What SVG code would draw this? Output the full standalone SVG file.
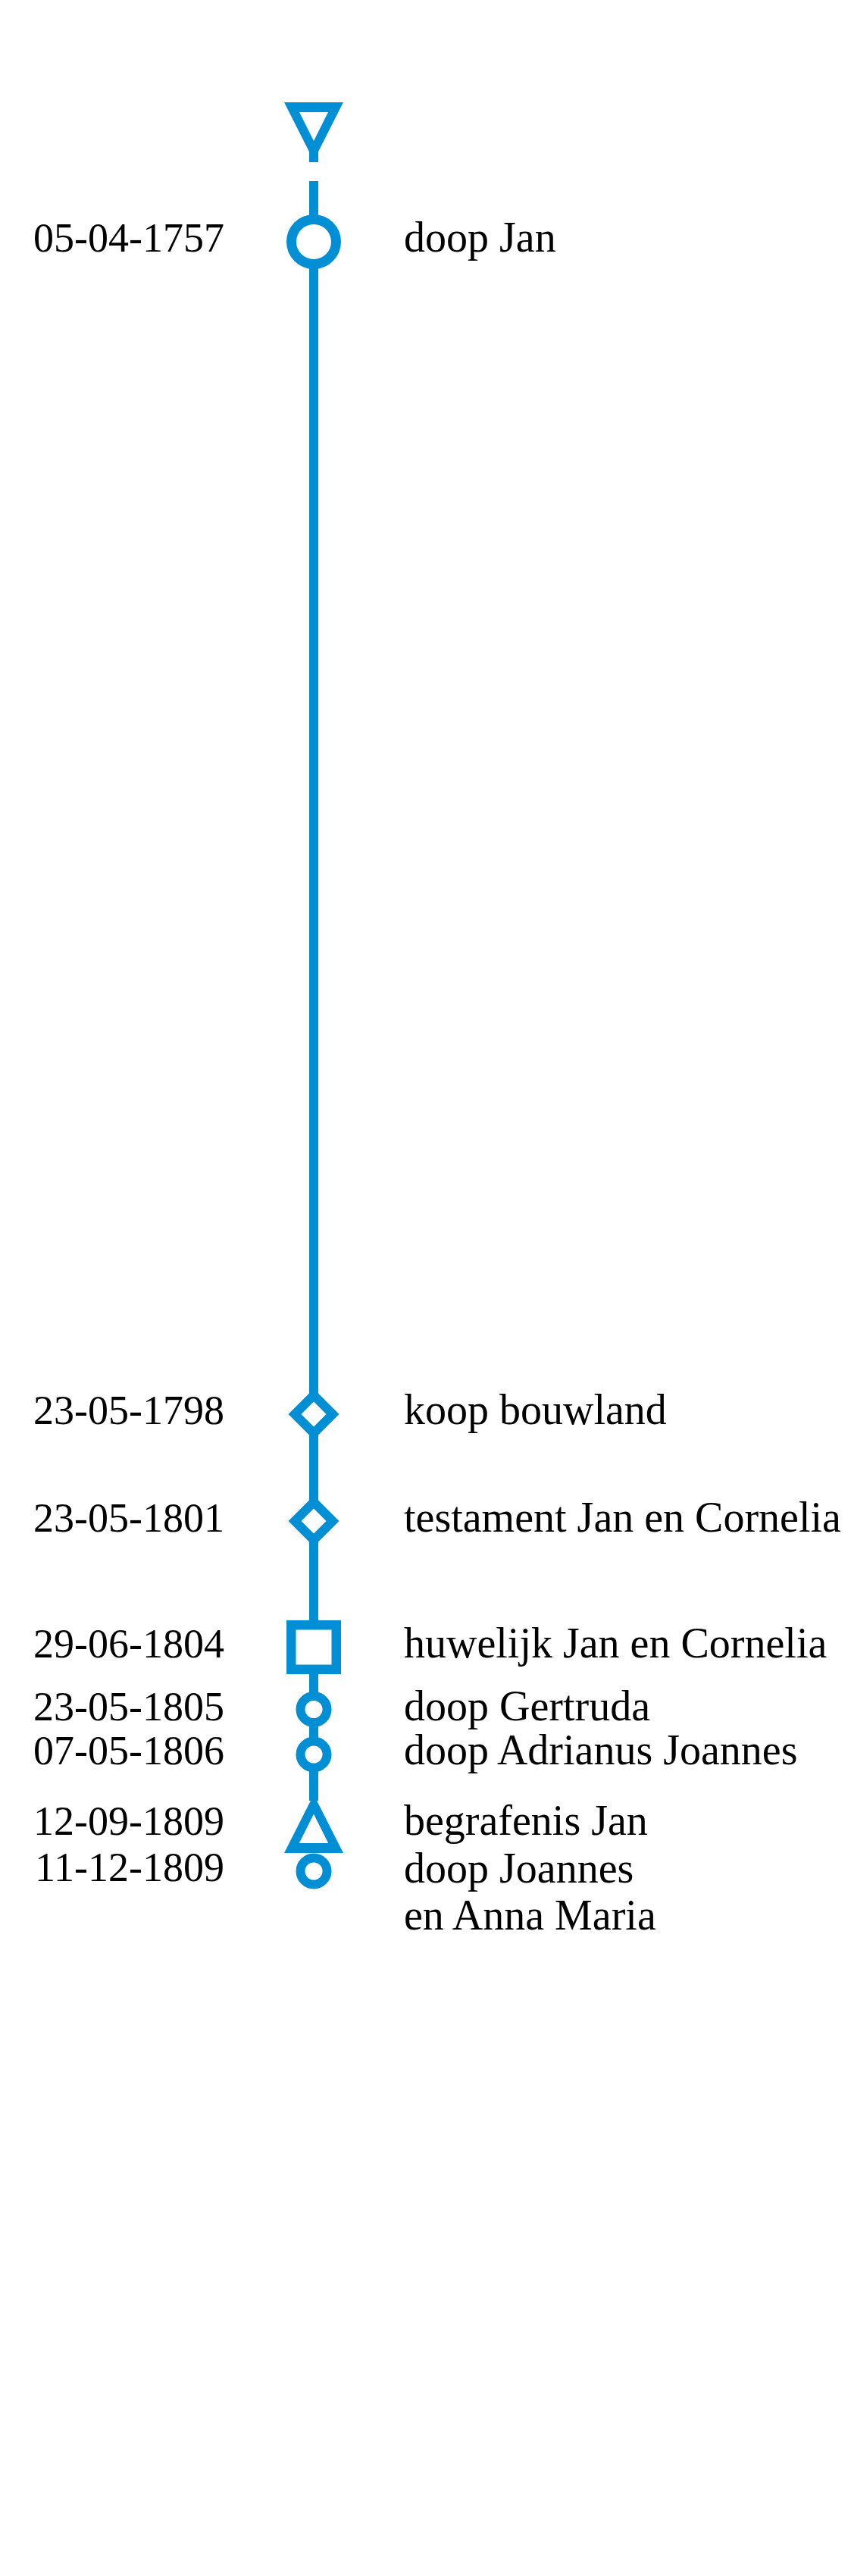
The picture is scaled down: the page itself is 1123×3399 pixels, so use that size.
<svg xmlns="http://www.w3.org/2000/svg" width="1123" height="3399" viewBox="0 0 1123 3399">
<style>
.bg{fill:#ffffff}
.ln{stroke:#008fd5;stroke-width:12;fill:none}
.mk{stroke:#008fd5;stroke-width:12;fill:#ffffff}
.solid{fill:#008fd5;fill-rule:evenodd}
.date{font-family:"Liberation Serif","Times New Roman",serif;font-size:54px;fill:#000000;text-anchor:end}
.lbl{font-family:"Liberation Serif","Times New Roman",serif;font-size:56px;fill:#000000}
</style>
<rect class="bg" x="0" y="0" width="1123" height="3399"/>
<g id="connectors">
<path class="ln" d="M414,239 V2376"/>
</g>
<g id="start">
<path class="solid" d="M375,135 H453 L414,212 Z M395,148 H433 L414,186 Z"/>
<rect class="solid" x="408" y="200" width="12" height="14"/>
</g>
<g id="e1757">
<circle class="mk" cx="414" cy="319" r="29.5" style="stroke-width:13"/>
<text class="date" x="296" y="332">05-04-1757</text>
<text class="lbl" x="533" y="332">doop Jan</text>
</g>
<g id="e1798">
<polygon class="mk" points="414,1841 439,1866 414,1891 389,1866"/>
<text class="date" x="296" y="1879">23-05-1798</text>
<text class="lbl" x="533" y="1879">koop bouwland</text>
</g>
<g id="e1801">
<polygon class="mk" points="414,1982 439,2007 414,2032 389,2007"/>
<text class="date" x="296" y="2021">23-05-1801</text>
<text class="lbl" x="533" y="2021">testament Jan en Cornelia</text>
</g>
<g id="e1804">
<rect class="mk" x="384.25" y="2144.25" width="59.5" height="58.5" style="stroke-width:12.5"/>
<text class="date" x="296" y="2187">29-06-1804</text>
<text class="lbl" x="533" y="2187">huwelijk Jan en Cornelia</text>
</g>
<g id="e1805">
<circle class="mk" cx="414" cy="2255.5" r="17.5"/>
<text class="date" x="296" y="2270">23-05-1805</text>
<text class="lbl" x="533" y="2270">doop Gertruda</text>
</g>
<g id="e1806">
<circle class="mk" cx="414" cy="2315" r="17.5"/>
<text class="date" x="296" y="2328">07-05-1806</text>
<text class="lbl" x="533" y="2328">doop Adrianus Joannes</text>
</g>
<g id="e1809a">
<path class="solid" d="M375,2445 H453 L414,2368 Z M395,2432 H433 L414,2394 Z"/>
<path d="M395,2432 H433 L414,2394 Z" fill="#ffffff"/>
<text class="date" x="296" y="2421">12-09-1809</text>
<text class="lbl" x="533" y="2421">begrafenis Jan</text>
</g>
<g id="e1809b">
<circle class="mk" cx="414" cy="2469" r="17.5"/>
<text class="date" x="296" y="2482">11-12-1809</text>
<text class="lbl" x="533" y="2484">doop Joannes</text>
<text class="lbl" x="533" y="2546">en Anna Maria</text>
</g>
</svg>
